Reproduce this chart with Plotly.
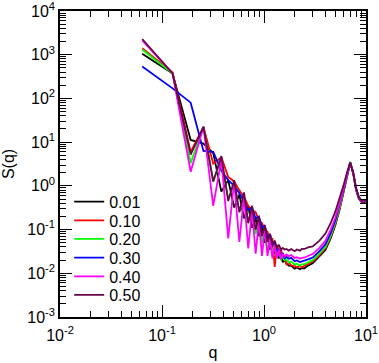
import plotly.graph_objects as go

# q values (1/length units)
q = [0.064, 0.127, 0.191, 0.255, 0.318, 0.382, 0.446, 0.510, 0.573, 0.637,
     0.701, 0.764, 0.828, 0.892, 0.955, 1.019, 1.083, 1.146, 1.210, 1.274,
     1.337, 1.401, 1.465, 1.528, 1.592,
     1.66, 1.75, 1.85, 2.0, 2.1, 2.25, 2.35, 2.5, 2.7, 3.0,
     3.5, 4.0, 4.5, 5.0, 5.5, 6.0, 6.5, 7.0, 7.5, 8.0, 8.5, 9.0, 9.5, 10.0]

s_001 = [1050, 372, 11.2, 9.3, 5.6, 0.74, 1.35, 0.32, 0.63, 0.18,
         0.35, 0.11, 0.18, 0.071, 0.11, 0.05, 0.071, 0.035, 0.05, 0.028,
         0.035, 0.022, 0.025, 0.018, 0.02,
         0.0165, 0.0150, 0.0148, 0.0128, 0.0136, 0.0124, 0.0132, 0.0130, 0.0150, 0.017,
         0.024, 0.034, 0.063, 0.126, 0.28, 0.68, 1.58, 3.4, 1.9, 0.79, 0.51, 0.43, 0.42, 0.44]

s_010 = [1410, 390, 6.0, 22.4, 3.2, 4.5, 1.6, 1.26, 0.79, 0.56,
         0.35, 0.28, 0.25, 0.16, 0.14, 0.1, 0.089, 0.056, 0.063, 0.014,
         0.045, 0.032, 0.035, 0.025, 0.025,
         0.016, 0.0174, 0.0152, 0.0148, 0.0138, 0.0145, 0.0136, 0.0151, 0.0162, 0.0186,
         0.026, 0.037, 0.068, 0.135, 0.295, 0.71, 1.62, 3.4, 1.9, 0.81, 0.52, 0.44, 0.43, 0.45]

s_020 = [1320, 372, 3.3, 22.4, 1.26, 4.0, 0.5, 1.12, 0.25, 0.56,
         0.14, 0.32, 0.079, 0.18, 0.05, 0.1, 0.032, 0.063, 0.025, 0.05,
         0.022, 0.035, 0.02, 0.028, 0.02,
         0.021, 0.0176, 0.0186, 0.0158, 0.0166, 0.0150, 0.0160, 0.0162, 0.0178, 0.020,
         0.028, 0.04, 0.072, 0.145, 0.32, 0.74, 1.66, 3.55, 1.95, 0.83, 0.54, 0.45, 0.44, 0.46]

s_030 = [540, 170, 80, 6.3, 6.0, 2.2, 1.35, 1.0, 0.68, 0.45,
         0.28, 0.32, 0.18, 0.2, 0.11, 0.126, 0.063, 0.079, 0.045, 0.05,
         0.032, 0.035, 0.025, 0.028, 0.022,
         0.024, 0.0215, 0.0225, 0.0188, 0.0196, 0.0180, 0.0188, 0.0192, 0.0208, 0.0229,
         0.032, 0.046, 0.083, 0.162, 0.35, 0.79, 1.74, 3.4, 1.95, 0.85, 0.54, 0.45, 0.44, 0.46]

s_040 = [2140, 372, 2.1, 22.4, 0.35, 4.0, 0.063, 1.26, 0.052, 0.56,
         0.037, 0.28, 0.028, 0.16, 0.025, 0.1, 0.025, 0.063, 0.022, 0.045,
         0.022, 0.035, 0.021, 0.028, 0.024,
         0.027, 0.0245, 0.0262, 0.0225, 0.0232, 0.0215, 0.0226, 0.0230, 0.0250, 0.0275,
         0.038, 0.055, 0.098, 0.186, 0.39, 0.85, 1.82, 3.4, 2.0, 0.87, 0.55, 0.46, 0.45, 0.47]

s_050 = [2290, 372, 5.2, 22.4, 1.26, 4.8, 0.45, 1.35, 0.25, 0.71,
         0.14, 0.35, 0.1, 0.2, 0.071, 0.126, 0.052, 0.079, 0.045, 0.056,
         0.038, 0.045, 0.035, 0.038, 0.035,
         0.036, 0.033, 0.036, 0.032, 0.035, 0.033, 0.036, 0.036, 0.039, 0.041,
         0.056, 0.081, 0.141, 0.257, 0.5, 1.0, 2.0, 3.4, 2.0, 0.89, 0.56, 0.47, 0.46, 0.48]

labels = ["0.01", "0.10", "0.20", "0.30", "0.40", "0.50"]
colors = ["#000000", "#ff0000", "#00ff00", "#0000ff", "#ff00ff", "#670748"]
series = [s_001, s_010, s_020, s_030, s_040, s_050]

x_tickvals = [0.01, 0.1, 1, 10]
x_ticktext = ["10<sup>-2</sup>", "10<sup>-1</sup>", "10<sup>0</sup>", "10<sup>1</sup>"]
y_tickvals = [1e-3, 1e-2, 1e-1, 1, 10, 100, 1000, 10000]
y_ticktext = ["10<sup>-3</sup>", "10<sup>-2</sup>", "10<sup>-1</sup>", "10<sup>0</sup>",
              "10<sup>1</sup>", "10<sup>2</sup>", "10<sup>3</sup>", "10<sup>4</sup>"]

x_minor = [m * 10 ** e for e in (-2, -1, 0) for m in range(2, 10)]
y_minor = [m * 10 ** e for e in (-3, -2, -1, 0, 1, 2, 3) for m in range(2, 10)]

font_family = "Liberation Sans, Arial, Helvetica, sans-serif"

# plot area geometry (pixels) used to place one legend per row
H, T, B = 363, 11, 46
plot_h = H - T - B
row_px = [201.7, 220.4, 239.0, 257.7, 276.4, 295.0]

fig = go.Figure()
legend_layout = {}
for i, (s, lab, c) in enumerate(zip(series, labels, colors)):
    lname = "legend" if i == 0 else f"legend{i + 1}"
    fig.add_trace(go.Scatter(x=q, y=s, mode="lines", name=lab, legend=lname,
                             line=dict(color=c, width=1.8)))
    legend_layout[lname] = dict(
        x=0.03, y=(H - B - row_px[i]) / plot_h, xanchor="left", yanchor="middle",
        bgcolor="rgba(0,0,0,0)", borderwidth=0,
        font=dict(family=font_family, size=16, color="black"))

axis_common = dict(
    type="log", showline=True, linecolor="black", linewidth=1.5,
    mirror="allticks", ticks="inside", ticklen=12, tickwidth=1.2, tickcolor="black",
    showgrid=False, zeroline=False, automargin=False, ticklabeloverflow="allow",
    tickfont=dict(family=font_family, size=16, color="black"),
)

fig.update_layout(
    width=379, height=363, autosize=False,
    margin=dict(l=60, r=13, t=T, b=B),
    paper_bgcolor="white", plot_bgcolor="white",
    font=dict(family=font_family, size=16, color="black"),
    showlegend=True,
    xaxis=dict(**axis_common, range=[-2, 1], tickmode="array",
               tickvals=x_tickvals, ticktext=x_ticktext, ticklabelstandoff=3,
               minor=dict(tickvals=x_minor, ticks="inside", ticklen=6,
                          tickwidth=1, tickcolor="black", showgrid=False),
               title=dict(text="q", font=dict(family=font_family, size=16),
                          standoff=4)),
    yaxis=dict(**axis_common, range=[-3, 4], tickmode="array",
               tickvals=y_tickvals, ticktext=y_ticktext,
               minor=dict(tickvals=y_minor, ticks="inside", ticklen=6,
                          tickwidth=1, tickcolor="black", showgrid=False),
               title=dict(text="S(q)", font=dict(family=font_family, size=16),
                          standoff=9)),
    **legend_layout,
)

fig.write_html(
    "out.html",
    config={"displayModeBar": False},
    post_script="document.body.style.margin='0px';document.body.style.overflow='hidden';",
)
